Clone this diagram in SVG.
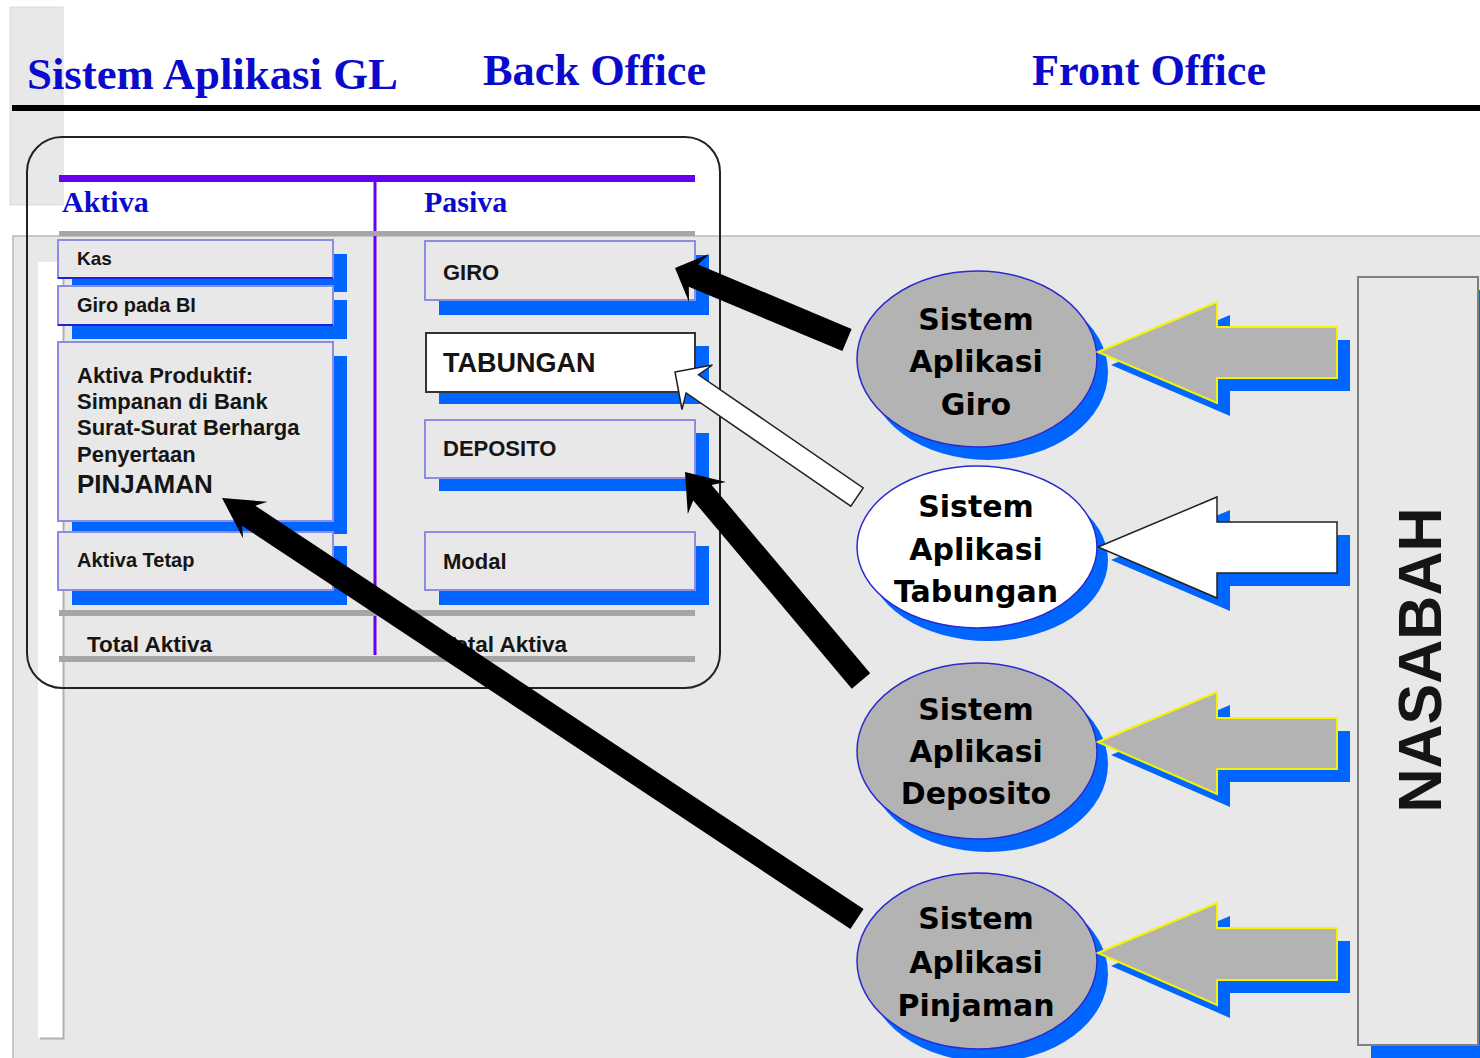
<svg xmlns="http://www.w3.org/2000/svg" width="1480" height="1058" viewBox="0 0 1480 1058">
<style>
.hdr{font-family:"Liberation Serif","Times New Roman",serif;font-weight:bold;fill:#0a0acc}
.lbl{font-family:"Liberation Sans",Arial,sans-serif;font-weight:bold;fill:#151515}
.ell{font-family:"DejaVu Sans",Verdana,sans-serif;font-weight:bold;font-size:30px;fill:#000;text-anchor:middle}
.box{fill:#e8e8e8;stroke:#8c8ce2;stroke-width:2}
.shadow{fill:#0066ff}
.gl{fill:#a6a6a6}
.eg{fill:#b3b3b3;stroke:#2a2ad0;stroke-width:1.5}
.ew{fill:#ffffff;stroke:#2a2ad0;stroke-width:1.5}
.barr{fill:#b3b3b3;stroke:#f5f500;stroke-width:2}
.warr{fill:#ffffff;stroke:#222;stroke-width:1.5}
.blk{fill:#000}
</style>
<rect width="1480" height="1058" fill="#ffffff"/>
<g id="background">
<rect x="10" y="7" width="53" height="198" fill="#e8e8e8" stroke="#dadada" stroke-width="1"/>
<rect x="13" y="236" width="1480" height="840" fill="#e8e8e8" stroke="#b8b8b8" stroke-width="1.5"/>
<rect x="38" y="262" width="25" height="776" fill="#ffffff"/>
<path d="M63.5 262 V1038.5 H40" fill="none" stroke="#b0b0b0" stroke-width="2"/>
</g>
<g id="header">
<text class="hdr" x="27" y="89" font-size="44.8">Sistem Aplikasi GL</text>
<text class="hdr" x="483" y="85" font-size="44.4">Back Office</text>
<text class="hdr" x="1032" y="85" font-size="44.3">Front Office</text>
<rect x="12" y="105" width="1468" height="6" fill="#000"/>
</g>
<g id="gl-table">
<rect x="27" y="137" width="693" height="551" rx="35" fill="none" stroke="#222" stroke-width="2"/>
<rect x="59" y="175" width="636" height="7" fill="#6600ee"/>
<rect x="373.5" y="180" width="3" height="475" fill="#6600ee"/>
<text class="hdr" x="62" y="212" font-size="30">Aktiva</text>
<text class="hdr" x="424" y="212" font-size="30">Pasiva</text>
<rect x="59" y="231" width="636" height="5" class="gl"/>
<rect x="59" y="610" width="636" height="6" class="gl"/>
<rect x="59" y="656" width="636" height="6" class="gl"/>
<text class="lbl" x="87" y="652" font-size="22.5">Total Aktiva</text>
<text class="lbl" x="442" y="652" font-size="22.5">Total Aktiva</text>
</g>
<g id="kas">
<rect class="shadow" x="72" y="254" width="275" height="38"/>
<rect class="box" x="58" y="240" width="275" height="38"/>
<line x1="58" y1="278" x2="333" y2="278" stroke="#1f1fe0" stroke-width="2"/>
<text class="lbl" x="77" y="265" font-size="19">Kas</text>
</g>
<g id="giro-bi">
<rect class="shadow" x="72" y="300" width="275" height="39"/>
<rect class="box" x="58" y="286" width="275" height="39"/>
<line x1="58" y1="325" x2="333" y2="325" stroke="#1f1fe0" stroke-width="2"/>
<text class="lbl" x="77" y="312" font-size="20">Giro pada BI</text>
</g>
<g id="aktiva-produktif">
<rect class="shadow" x="72" y="356" width="275" height="178"/>
<rect class="box" x="58" y="342" width="275" height="179"/>
<text class="lbl" x="77" y="383" font-size="22">Aktiva Produktif:</text>
<text class="lbl" x="77" y="409" font-size="22">Simpanan di Bank</text>
<text class="lbl" x="77" y="435" font-size="22">Surat-Surat Berharga</text>
<text class="lbl" x="77" y="462" font-size="22">Penyertaan</text>
<text class="lbl" x="77" y="493" font-size="26">PINJAMAN</text>
</g>
<g id="aktiva-tetap">
<rect class="shadow" x="72" y="546" width="275" height="59"/>
<rect class="box" x="58" y="532" width="275" height="58"/>
<text class="lbl" x="77" y="567" font-size="20">Aktiva Tetap</text>
</g>
<g id="giro">
<rect class="shadow" x="439" y="255" width="270" height="60"/>
<rect class="box" x="425" y="241" width="270" height="59"/>
<text class="lbl" x="443" y="280" font-size="22">GIRO</text>
</g>
<g id="tabungan">
<rect class="shadow" x="439" y="346" width="270" height="58"/>
<rect x="426" y="333" width="269" height="59" fill="#ffffff" stroke="#333" stroke-width="2"/>
<text class="lbl" x="443" y="372" font-size="27">TABUNGAN</text>
</g>
<g id="deposito">
<rect class="shadow" x="439" y="433" width="270" height="58"/>
<rect class="box" x="425" y="420" width="270" height="58"/>
<text class="lbl" x="443" y="456" font-size="22">DEPOSITO</text>
</g>
<g id="modal">
<rect class="shadow" x="439" y="546" width="270" height="59"/>
<rect class="box" x="425" y="532" width="270" height="58"/>
<text class="lbl" x="443" y="569" font-size="22">Modal</text>
</g>
<g id="sa-giro">
<ellipse class="shadow" cx="988" cy="372" rx="120" ry="88"/>
<ellipse class="eg" cx="977" cy="359" rx="120" ry="88"/>
<text class="ell" x="976" y="330">Sistem</text>
<text class="ell" x="976" y="372">Aplikasi</text>
<text class="ell" x="976" y="415">Giro</text>
</g>
<g id="sa-tabungan">
<ellipse class="shadow" cx="988" cy="560" rx="120" ry="81"/>
<ellipse class="ew" cx="977" cy="547" rx="120" ry="81"/>
<text class="ell" x="976" y="517">Sistem</text>
<text class="ell" x="976" y="560">Aplikasi</text>
<text class="ell" x="976" y="602">Tabungan</text>
</g>
<g id="sa-deposito">
<ellipse class="shadow" cx="988" cy="764" rx="120" ry="88"/>
<ellipse class="eg" cx="977" cy="751" rx="120" ry="88"/>
<text class="ell" x="976" y="720">Sistem</text>
<text class="ell" x="976" y="762">Aplikasi</text>
<text class="ell" x="976" y="804">Deposito</text>
</g>
<g id="sa-pinjaman">
<ellipse class="shadow" cx="988" cy="974" rx="120" ry="88"/>
<ellipse class="eg" cx="977" cy="961" rx="120" ry="88"/>
<text class="ell" x="976" y="929">Sistem</text>
<text class="ell" x="976" y="973">Aplikasi</text>
<text class="ell" x="976" y="1016">Pinjaman</text>
</g>
<g id="nasabah">
<rect class="shadow" x="1371" y="290" width="120" height="768"/>
<rect x="1358" y="277" width="120" height="768" fill="#e8e8e8" stroke="#808080" stroke-width="2"/>
<text class="lbl" font-size="61" fill="#000" text-anchor="middle" transform="translate(1441,660) rotate(-90)">NASABAH</text>
</g>
<g id="connectors">
<g transform="translate(13,13)" class="shadow">
<polygon points="1098,352 1217,302 1217,327 1337,327 1337,378 1217,378 1217,403"/>
<polygon points="1098,547 1217,497 1217,522 1337,522 1337,573 1217,573 1217,598"/>
<polygon points="1098,742 1217,692 1217,718 1337,718 1337,769 1217,769 1217,794"/>
<polygon points="1098,953 1217,903 1217,928 1337,928 1337,980 1217,980 1217,1005"/>
</g>
<polygon class="barr" points="1098,352 1217,302 1217,327 1337,327 1337,378 1217,378 1217,403"/>
<polygon class="warr" points="1098,547 1217,497 1217,522 1337,522 1337,573 1217,573 1217,598"/>
<polygon class="barr" points="1098,742 1217,692 1217,718 1337,718 1337,769 1217,769 1217,794"/>
<polygon class="barr" points="1098,953 1217,903 1217,928 1337,928 1337,980 1217,980 1217,1005"/>
<polygon class="blk" points="675,268 709,254.1 698.1,264.6 851.6,328.9 842.4,351.1 688.8,286.8 689,302"/>
<polygon class="warr" points="675,372 712.5,365 698.5,374.8 863.2,487.9 850.8,506.1 686.1,393 682,409.5"/>
<polygon class="blk" points="685,472 726,481.9 711.6,484.9 870.2,673.3 851.8,688.7 693.2,500.4 687.8,514.1"/>
<polygon class="blk" points="222,498 267.5,501.8 255.3,505.7 863.6,909 850.4,929 242,525.7 243.2,538.4"/>
</g>
</svg>
